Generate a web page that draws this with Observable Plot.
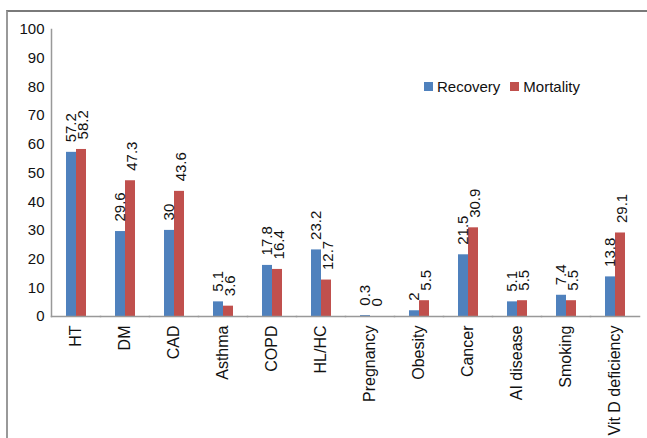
<!DOCTYPE html>
<html>
<head>
<meta charset="utf-8">
<script src="https://cdn.jsdelivr.net/npm/d3@7"></script>
<script src="https://cdn.jsdelivr.net/npm/@observablehq/plot@0.6"></script>
<style>
  html, body { margin: 0; padding: 0; background: #fff; }
  #wrap { position: relative; width: 647px; height: 438px; overflow: hidden; font-family: "Liberation Sans", Arial, sans-serif; }
  #border { position: absolute; left: 6px; top: 10px; width: 700px; height: 500px; border-top: 2px solid #7a7a7a; border-left: 2px solid #999; box-sizing: border-box; }
  #legend { position: absolute; left: 424px; top: 77px; font-size: 15px; color: #111; white-space: nowrap; }
  #legend .item { display: inline-flex; align-items: center; }
  #legend .sw { display: inline-block; width: 9px; height: 9px; margin-right: 4px; }
  #legend .item + .item { margin-left: 10px; }
  svg { position: absolute; left: 0; top: 0; }
</style>
</head>
<body>
<div id="wrap"><div id="border"></div></div>
<script>
const categories = ["HT","DM","CAD","Asthma","COPD","HL/HC","Pregnancy","Obesity","Cancer","AI disease","Smoking","Vit D deficiency"];
const recovery  = [57.2, 29.6, 30, 5.1, 17.8, 23.2, 0.3, 2, 21.5, 5.1, 7.4, 13.8];
const mortality = [58.2, 47.3, 43.6, 3.6, 16.4, 12.7, 0, 5.5, 30.9, 5.5, 5.5, 29.1];
const series = ["Recovery", "Mortality"];
const colors = ["#4F81BD", "#C0504D"];
const yTicks = [0, 10, 20, 30, 40, 50, 60, 70, 80, 90, 100];

const data = [];
categories.forEach((c, i) => {
  data.push({category: c, series: "Recovery", value: recovery[i]});
  data.push({category: c, series: "Mortality", value: mortality[i]});
});

const font = '"Liberation Sans", Arial, sans-serif';
const labelOpts = {fx: "category", x: "series", y: "value", text: d => String(d.value),
  rotate: -90, textAnchor: "start", lineAnchor: "middle", dy: -10, fontSize: 15, fill: "#111"};

const chart = Plot.plot({
  width: 647,
  height: 438,
  marginLeft: 48,
  marginRight: 5,
  marginTop: 29,
  marginBottom: 122,
  style: {fontFamily: font, fontSize: "15px", color: "#111", background: "transparent", overflow: "visible"},
  fx: {domain: categories, padding: 0},
  x: {domain: series, paddingInner: 0, paddingOuter: 1.36, axis: null},
  y: {domain: [0, 100]},
  color: {domain: series, range: colors},
  marks: [
    Plot.barY(data, {fx: "category", x: "series", y: "value", fill: "series"}),
    Plot.text(data.filter(d => d.series === "Recovery"), {...labelOpts, dx: 0}),
    Plot.text(data.filter(d => d.series === "Mortality"), {...labelOpts, dx: 2}),
    Plot.frame({anchor: "bottom", stroke: "#999", strokeWidth: 1.5}),
    Plot.frame({anchor: "left", facetAnchor: "left", stroke: "#999", strokeWidth: 1.5}),
    Plot.axisY({ticks: yTicks, tickSize: 0, tickPadding: 7, label: null, fontSize: 15}),
    Plot.axisFx({anchor: "bottom", tickRotate: -90, tickSize: 0, tickPadding: 9, label: null, fontSize: 16})
  ]
});

const wrap = document.getElementById("wrap");
wrap.appendChild(chart);

const scale = chart.scale("color");
const legend = document.createElement("div");
legend.id = "legend";
scale.domain.forEach((s, i) => {
  const item = document.createElement("span");
  item.className = "item";
  const sw = document.createElement("span");
  sw.className = "sw";
  sw.style.background = scale.range[i];
  item.appendChild(sw);
  item.appendChild(document.createTextNode(s));
  legend.appendChild(item);
});
wrap.appendChild(legend);
</script>
</body>
</html>
